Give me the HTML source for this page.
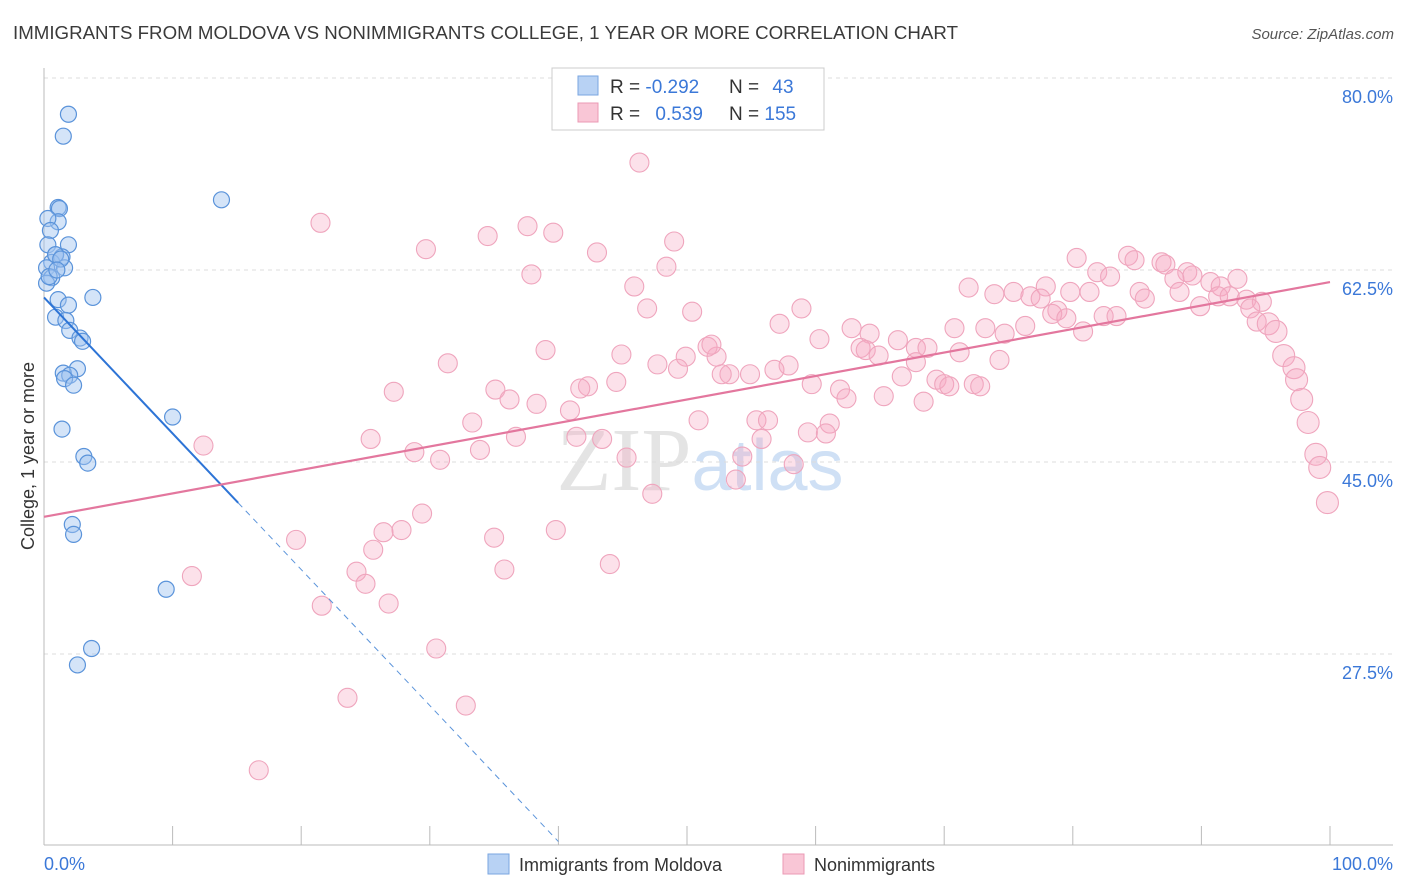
<!DOCTYPE html>
<html><head><meta charset="utf-8">
<style>
body{margin:0;background:#fff;font-family:"Liberation Sans",sans-serif;}
svg{display:block}
</style></head>
<body>
<svg id="chart" width="1406" height="892" xmlns="http://www.w3.org/2000/svg">
<text x="13" y="39" font-size="18" fill="#3a3a3a" textLength="945" lengthAdjust="spacingAndGlyphs">IMMIGRANTS FROM MOLDOVA VS NONIMMIGRANTS COLLEGE, 1 YEAR OR MORE CORRELATION CHART</text>
<text x="1394" y="39" font-size="15" fill="#555" text-anchor="end" font-style="italic">Source: ZipAtlas.com</text>
<text x="700" y="490" font-size="90" text-anchor="middle" fill="#e4e4e4" font-family="Liberation Serif">ZIP<tspan fill="#cfe0f5" font-family="Liberation Sans" font-size="72">atlas</tspan></text>
<g id="grid"></g>
<g id="axes"></g>
<g id="pink"></g>
<g id="blue"></g>
<g id="lines"></g>
<text transform="translate(34,456) rotate(-90)" font-size="18" fill="#333" text-anchor="middle">College, 1 year or more</text>
<text x="44" y="870" font-size="18" fill="#3b78d8">0.0%</text>
<text x="1393" y="870" font-size="18" fill="#3b78d8" text-anchor="end">100.0%</text>
<g>
<rect x="552" y="68" width="272" height="62" fill="#fff" stroke="#ccc"/>
<rect x="578" y="76" width="20" height="19" fill="#b8d2f4" stroke="#7aa6e0"/>
<rect x="578" y="103" width="20" height="19" fill="#f9c6d6" stroke="#eb9ab4"/>
<text x="610" y="93" font-size="19" fill="#333">R = <tspan fill="#3b78d8">-0.292</tspan></text>
<text x="729" y="93" font-size="19" fill="#333">N = <tspan fill="#3b78d8" dx="8">43</tspan></text>
<text x="610" y="120" font-size="19" fill="#333">R = <tspan fill="#3b78d8" dx="10">0.539</tspan></text>
<text x="729" y="120" font-size="19" fill="#333">N = <tspan fill="#3b78d8">155</tspan></text>
</g>
<g>
<rect x="488" y="854" width="21" height="20" fill="#b8d2f4" stroke="#7aa6e0"/>
<text x="519" y="871" font-size="18" fill="#333">Immigrants from Moldova</text>
<rect x="783" y="854" width="21" height="20" fill="#f9c6d6" stroke="#eb9ab4"/>
<text x="814" y="871" font-size="18" fill="#333">Nonimmigrants</text>
</g>
</svg>
<script>
const yTicks=[80,62.5,45,27.5];
const yTickLabels=["80.0%","62.5%","45.0%","27.5%"];
const xTicks=[0,10,20,30,40,50,60,70,80,90,100];
const blueX=[1.9,1.5,13.8,1.1,1.2,1.1,0.3,0.5,0.3,1.9,0.9,1.4,0.6,1.6,0.2,0.6,0.2,3.8,1.1,1.9,0.9,1.7,2.0,2.8,3.0,2.6,1.5,2.0,1.6,2.3,10.0,1.4,3.1,3.4,2.2,2.3,9.5,3.7,2.6,0.9,1.3,0.4,1.0];
const blueY=[76.7,74.7,68.9,68.2,68.1,66.9,67.2,66.1,64.8,64.8,63.9,63.7,63.2,62.7,62.7,61.8,61.3,60.0,59.8,59.3,58.2,57.9,57.0,56.3,56.0,53.5,53.1,52.9,52.6,52.0,49.1,48.0,45.5,44.9,39.3,38.4,33.4,28.0,26.5,63.9,63.5,61.9,62.5];
const pinkX=[46.3,21.5,37.6,39.6,34.5,49.0,29.7,43.0,48.4,37.9,45.9,71.9,80.3,84.3,84.8,86.9,87.2,81.9,82.9,88.9,89.3,87.9,92.8,90.7,91.5,77.9,79.8,81.3,85.2,88.3,73.9,75.4,76.7,77.5,85.6,91.3,92.2,93.5,94.7,89.9,93.8,78.8,78.4,79.5,82.4,83.4,94.3,95.2,95.8,80.8,76.3,73.2,70.8,74.7,58.9,57.2,50.4,46.9,62.8,64.2,66.4,60.3,67.8,63.5,63.9,64.9,68.7,71.2,74.3,67.8,66.7,69.4,70.0,70.4,72.3,72.8,65.3,68.4,61.9,62.4,59.7,57.9,56.8,54.9,53.3,52.7,52.3,51.6,51.9,49.9,49.3,47.7,44.9,44.5,42.3,41.7,39.0,35.1,36.2,38.3,40.9,33.3,31.4,27.2,50.9,55.4,56.3,61.1,59.4,60.8,55.8,41.4,43.4,36.7,25.4,12.4,28.8,33.9,45.3,54.3,30.8,58.3,53.8,47.3,29.4,27.8,26.4,19.6,39.8,35.0,25.6,44.0,35.8,24.3,11.5,25.0,26.8,21.6,30.5,23.6,32.8,16.7,96.4,97.2,97.4,97.8,98.3,98.9,99.2,99.8];
const pinkY=[72.3,66.8,66.5,65.9,65.6,65.1,64.4,64.1,62.8,62.1,61.0,60.9,63.6,63.8,63.4,63.2,63.0,62.3,61.9,62.3,62.0,61.7,61.7,61.4,61.0,61.0,60.5,60.5,60.5,60.5,60.3,60.5,60.1,59.9,59.9,60.1,60.1,59.8,59.6,59.2,59.0,58.8,58.5,58.1,58.3,58.3,57.8,57.6,56.9,56.9,57.4,57.2,57.2,56.7,59.0,57.6,58.7,59.0,57.2,56.7,56.1,56.2,55.4,55.4,55.2,54.7,55.4,55.0,54.3,54.1,52.8,52.5,52.1,51.9,52.1,51.9,51.0,50.5,51.6,50.8,52.1,53.8,53.4,53.0,53.0,53.0,54.6,55.5,55.7,54.6,53.5,53.9,54.8,52.3,51.9,51.7,55.2,51.6,50.7,50.3,49.7,48.6,54.0,51.4,48.8,48.8,48.8,48.5,47.7,47.6,47.1,47.3,47.1,47.3,47.1,46.5,45.9,46.1,45.4,45.5,45.2,44.8,43.4,42.1,40.3,38.8,38.6,37.9,38.8,38.1,37.0,35.7,35.2,35.0,34.6,33.9,32.1,31.9,28.0,23.5,22.8,16.9,54.7,53.6,52.5,50.7,48.6,45.7,44.5,41.3];
const blueTrend=[60.0,-1.24];
const pinkTrend=[40.0,0.214];

const NS="http://www.w3.org/2000/svg";
const X=v=>44+v*12.86;
const Y=v=>462-(v-45)*10.97;
function mk(tag,attrs,parent){const e=document.createElementNS(NS,tag);for(const k in attrs)e.setAttribute(k,attrs[k]);parent.appendChild(e);return e;}
const grid=document.getElementById('grid'),axes=document.getElementById('axes');
yTicks.forEach((t,i)=>{
 const l=mk('line',{x1:44,x2:1393,y1:Y(t),y2:Y(t),stroke:'#dcdcdc','stroke-dasharray':'4,4'},grid);
 
 
 const tx=mk('text',{x:1393,y:Y(t)+25,'font-size':18,fill:'#3b78d8','text-anchor':'end'},axes);
 tx.textContent=yTickLabels[i];
 
 
});
mk('line',{x1:44,x2:44,y1:68,y2:845,stroke:'#bbb'},axes);
mk('line',{x1:44,x2:1393,y1:845,y2:845,stroke:'#bbb'},axes);
xTicks.forEach(t=>{
 const l=mk('line',{x1:X(t),x2:X(t),y1:826,y2:845,stroke:'#bbb'},axes);
 
 
});
const pg=document.getElementById('pink');
pinkX.forEach((x,i)=>{
 const r=x>95?11:9.5;
 const c=mk('circle',{cx:X(x),cy:Y(pinkY[i]),r:r,fill:'rgba(245,170,195,0.35)',stroke:'#efa5bd','stroke-width':1.1},pg);
 
 
});
const bg=document.getElementById('blue');
blueX.forEach((x,i)=>{
 const c=mk('circle',{cx:X(x),cy:Y(blueY[i]),r:8,fill:'rgba(160,195,240,0.45)',stroke:'#5a93da','stroke-width':1.2},bg);
 
 
});
const lg=document.getElementById('lines');
const bf=x=>blueTrend[0]+blueTrend[1]*x;
const pf=x=>pinkTrend[0]+pinkTrend[1]*x;
const bl=mk('line',{x1:X(0),y1:Y(bf(0)),x2:X(15.1),y2:Y(bf(15.1)),stroke:'#2d74d6','stroke-width':2},lg);


const bd=mk('line',{x1:X(15.1),y1:Y(bf(15.1)),x2:X(40),y2:Y(bf(40)),stroke:'#5a93da','stroke-width':1,'stroke-dasharray':'6,5'},lg);


const pl=mk('line',{x1:X(0),y1:Y(pf(0)),x2:X(100),y2:Y(pf(100)),stroke:'#e3779e','stroke-width':2.2},lg);


</script>
</body></html>
